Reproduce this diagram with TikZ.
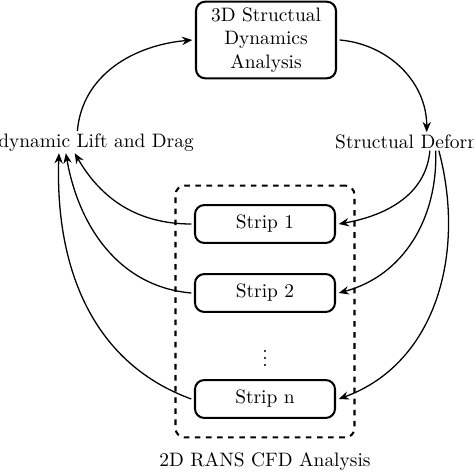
\documentclass[tikz,border=0pt]{standalone}
\usepackage{amsmath}
\usepackage{tikz}
\usetikzlibrary{arrows.meta,fit}

\begin{document}
\begin{tikzpicture}[x=0.019cm, y=0.019cm, font=\fontsize{10.5}{12.6}\selectfont,
		blocco/.style={draw, line width=1.1pt, rounded corners=5pt, minimum width=2.66cm, outer sep=2pt, align=center},
		freccia/.style={->, >={Stealth[length=5.5pt,width=4.5pt]}, line width=0.7pt}]
	\useasboundingbox (0,0) rectangle (474,474);
	\clip (0,0) rectangle (474,474);
	\begin{scope}
		\node[blocco, minimum height=1.45cm] (sda) at (266,434) {3D Structual\\Dynamics\\Analysis};
		\node[anchor=base east, inner sep=1pt] (lift) at (196,327) {Aerodynamic Lift and Drag};
		\node[anchor=base west, inner sep=1pt] (deform) at (333,326) {Structual Deformation};

		\node[blocco, minimum height=0.72cm] (s1) at (265,250) {Strip 1};
		\node[blocco, minimum height=0.72cm] (s2) at (265,181) {Strip 2};
		\node (dots) at (265,121) {$\vdots$};
		\node[blocco, minimum height=0.72cm] (sn) at (265,75) {Strip n};
		\node[draw, dashed, line width=1.1pt, rounded corners=5pt, inner sep=0.3cm, fit=(s1)(sn)] (cfd) {};
		\node (cfdlabel) at (265,12) {2D RANS CFD Analysis};

		\draw[freccia] ([xshift=0.03cm]lift.north) to[out=85, in=185] (sda.west); % forze -> struttura
		\draw[freccia] (sda.east) to[out=-5, in=90] ([xshift=-0.08cm]deform.north); % struttura -> deformazione

		\draw[freccia] ([xshift=-0.02cm]deform.south) to[out=-95, in=10] (s1.east); % deformazione -> strisce
		\draw[freccia] ([xshift=0.09cm]deform.south) to[out=-88, in=15] (s2.east);
		\draw[freccia] ([xshift=0.15cm]deform.south) to[out=-75, in=20] (sn.east);

		\draw[freccia] (s1.west) to[out=180, in=-60] ([xshift=-0.02cm]lift.south); % strisce -> forze
		\draw[freccia] (s2.west) to[out=175, in=-80] ([xshift=-0.19cm]lift.south);
		\draw[freccia] (sn.west) to[out=160, in=-92] ([xshift=-0.32cm]lift.south);
	\end{scope}
\end{tikzpicture}
\end{document}
